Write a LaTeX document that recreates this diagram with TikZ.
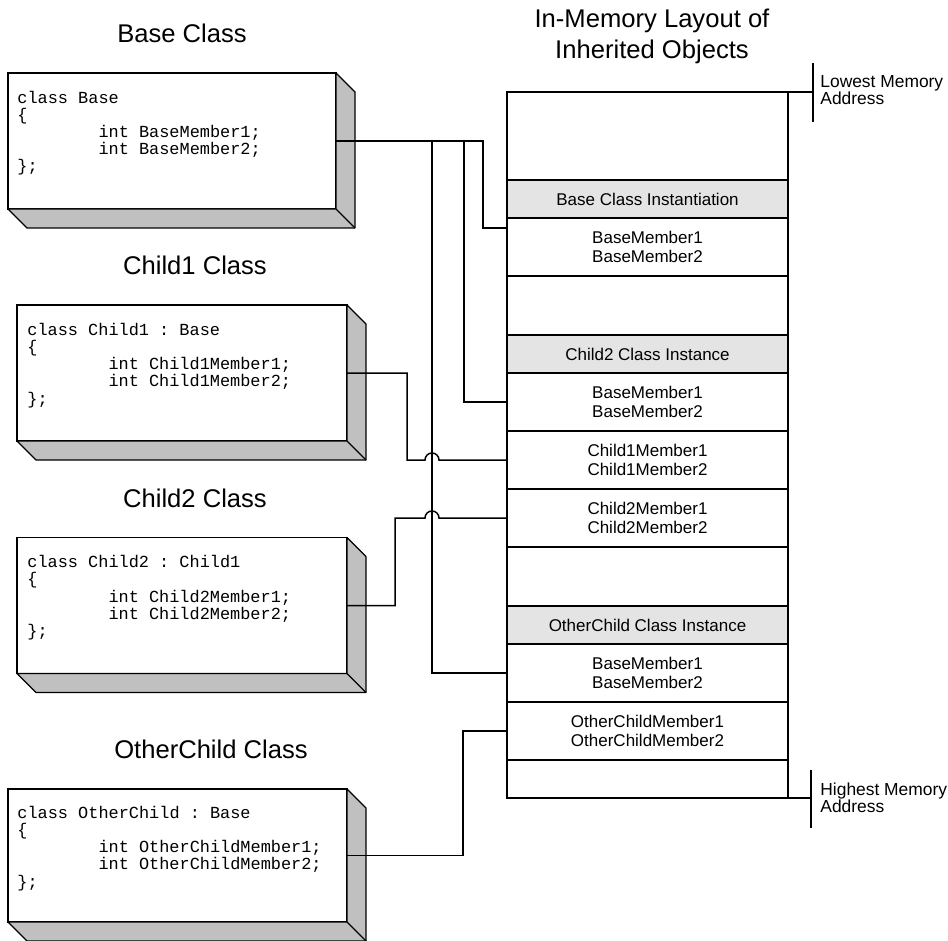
\documentclass[tikz,border=0pt]{standalone}
\usepackage{fontspec}
\setmainfont{Liberation Sans}
\setmonofont{Liberation Mono}
\usetikzlibrary{positioning, calc}
\definecolor{cSide}{RGB}{192,192,192}
\definecolor{cHead}{RGB}{228,228,228}
\tikzset{
	classbox/.style={rectangle, draw=black, line width=0.6pt, fill=white, minimum height=68pt, inner sep=0pt, outer sep=0pt},
	sideface/.style={draw=black, line width=0.6pt, fill=cSide, line join=round},
	codetxt/.style ={anchor=base west, align=left, inner sep=0pt, font=\fontsize{8.45}{8.6}\ttfamily},
	ttl/.style     ={align=center, inner sep=0pt, font=\fontsize{12.8}{15.5}\selectfont},
	mrow/.style    ={rectangle, draw=black, line width=0.6pt, minimum width=140.5pt, minimum height=29pt, inner sep=0pt, outer sep=0pt, align=center, font=\fontsize{8.5}{9.15}\selectfont},
	hdr/.style     ={mrow, line width=1pt, fill=cHead, minimum height=19pt},
	addr/.style    ={anchor=north west, align=left, inner sep=0pt, font=\fontsize{8.7}{8.6}\selectfont},
	wire/.style    ={line width=0.75pt, line join=miter},
}
\newcommand{\codetab}{\hspace*{4.8em}}
\newcommand{\extrude}[1]{%
	\filldraw[sideface] (#1.north east) -- ++(19,19) -- ($(#1.south east)+(19,19)$) -- ($(#1.south west)+(19,19)$) -- (#1.south west) -- (#1.south east) -- cycle;
	\draw[sideface] (#1.south east) -- ++(19,19);}
\begin{document}
\begin{tikzpicture}[x=0.5pt, y=-0.5pt]
	\useasboundingbox (0,0) rectangle (948,941);
	% class declarations
	\node[ttl] (tBase) at (182,33) {Base Class};
	\node[classbox, minimum width=164pt] (base) at (172,141) {};
	\extrude{base}
	\node[codetxt] (codeBase) at ($(base.north west)+(9,99)$) {class Base\\ \{\\ \codetab int BaseMember1;\\ \codetab int BaseMember2;\\ \};};

	\node[ttl] (tChildOne) at (195,265) {Child1 Class};
	\node[classbox, minimum width=165pt] (childOne) at (182,373) {};
	\extrude{childOne}
	\node[codetxt] (codeChildOne) at ($(childOne.north west)+(10,99)$) {class Child1 : Base\\ \{\\ \codetab int Child1Member1;\\ \codetab int Child1Member2;\\ \};};

	\node[ttl] (tChildTwo) at (195,498) {Child2 Class};
	\node[classbox, minimum width=165pt] (childTwo) at (182,605.5) {};
	\extrude{childTwo}
	\node[codetxt] (codeChildTwo) at ($(childTwo.north west)+(10,99)$) {class Child2 : Child1\\ \{\\ \codetab int Child2Member1;\\ \codetab int Child2Member2;\\ \};};

	\node[ttl] (tOther) at (211,749) {OtherChild Class};
	\node[classbox, minimum width=169.5pt, minimum height=66.5pt] (other) at (177.5,855.5) {};
	\extrude{other}
	\node[codetxt] (codeOther) at ($(other.north west)+(9,98)$) {class OtherChild : Base\\ \{\\ \codetab int OtherChildMember1;\\ \codetab int OtherChildMember2;\\ \};};

	% memory layout
	\node[ttl] (tLayout) at (652,36) {In-Memory Layout of\\Inherited Objects};
	\node[draw=black, line width=0.6pt, minimum width=140.5pt, minimum height=353pt, inner sep=0pt, outer sep=0pt] (layout) at (647.5,445) {};
	\node[mrow] (rBase) at (647.5,247) {BaseMember1\\BaseMember2};
	\node[hdr, above=0pt of rBase] (hBase) {Base Class Instantiation};

	\node[mrow] (rTwoBase) at (647.5,402) {BaseMember1\\BaseMember2};
	\node[mrow, below=0pt of rTwoBase] (rTwoOne) {Child1Member1\\Child1Member2};
	\node[mrow, below=0pt of rTwoOne] (rTwoTwo) {Child2Member1\\Child2Member2};
	\node[hdr, above=0pt of rTwoBase] (hTwo) {Child2 Class Instance};

	\node[mrow] (rOtherBase) at (647.5,673) {BaseMember1\\BaseMember2};
	\node[mrow, below=0pt of rOtherBase] (rOtherMem) {OtherChildMember1\\OtherChildMember2};
	\node[hdr, above=0pt of rOtherBase] (hOther) {OtherChild Class Instance};

	% address marks
	\coordinate (lowEnd) at (813,92);
	\coordinate (lowTop) at (813,63);
	\coordinate (lowBot) at (813,122);
	\draw[line width=0.6pt] (layout.north east) -- (lowEnd);
	\draw[line width=0.6pt] (lowTop) -- (lowBot);
	\node[addr] (lowLbl) at (820,75) {Lowest Memory\\Address};
	\coordinate (highEnd) at (811,798);
	\coordinate (highTop) at (811,770);
	\coordinate (highBot) at (811,828);
	\draw[line width=0.6pt] (layout.south east) -- (highEnd);
	\draw[line width=0.6pt] (highTop) -- (highBot);
	\node[addr] (highLbl) at (820,782) {Highest Memory\\Address};

	% connectors
	\coordinate (busA) at (432,141);
	\coordinate (busB) at (464,141);
	\coordinate (busC) at (483,141);
	\coordinate (dropBase) at ($(rBase.north west)+(0,10)$);
	\draw[wire] (base.east) -- (busC) |- (dropBase);
	\draw[wire] (busB) |- (rTwoBase.west);
	\draw[wire] (busA) |- (rOtherBase.west);
	\draw[wire] (childOne.east) -- (407,373) -- (407,460) -- (425,460) arc (180:360:7) -- (rTwoOne.west);
	\draw[wire] (childTwo.east) -- (395,605.5) -- (395,518) -- (425,518) arc (180:360:7) -- (rTwoTwo.west);
	\draw[wire] (other.east) -- (463,855.5) |- (rOtherMem.west);
\end{tikzpicture}
\end{document}
